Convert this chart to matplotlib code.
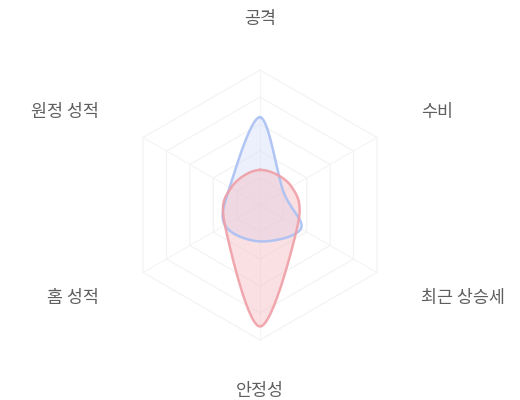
import numpy as np
import matplotlib.pyplot as plt

plt.rcParams['font.family'] = ['Noto Sans CJK KR', 'DejaVu Sans']

# Radar data (0-100)
categories = ['공격', '수비', '최근 상승세', '안정성', '홈 성적', '원정 성적']
team_a = [65, 20, 35, 27, 30, 26]   # blue
team_b = [26, 27, 32, 90, 30, 25]   # red
max_value = 100
levels = 5

cx, cy, radius = 260, 205, 135
angles = np.pi / 2 - np.arange(len(categories)) * 2 * np.pi / len(categories)


def to_xy(vals):
    r = np.asarray(vals, dtype=float) / max_value * radius
    return cx + r * np.cos(angles), cy - r * np.sin(angles)


def smooth_closed(x, y, n=30):
    # closed Catmull-Rom curve through the points
    pts = np.column_stack([x, y])
    k = len(pts)
    out = []
    for i in range(k):
        p0, p1, p2, p3 = pts[i - 1], pts[i], pts[(i + 1) % k], pts[(i + 2) % k]
        t = np.linspace(0, 1, n, endpoint=False)[:, None]
        seg = 0.5 * ((2 * p1) + (-p0 + p2) * t + (2 * p0 - 5 * p1 + 4 * p2 - p3) * t ** 2
                     + (-p0 + 3 * p1 - 3 * p2 + p3) * t ** 3)
        out.append(seg)
    out = np.vstack(out + [pts[:1]])
    return out[:, 0], out[:, 1]


fig = plt.figure(figsize=(5.2, 4.0), dpi=100)
ax = fig.add_axes([0, 0, 1, 1])
ax.set_xlim(0, 520)
ax.set_ylim(400, 0)
ax.axis('off')

# hexagon grid
for lv in range(1, levels + 1):
    gx, gy = to_xy([max_value * lv / levels] * len(categories))
    ax.plot(np.append(gx, gx[0]), np.append(gy, gy[0]), color='#f2f2f2', lw=0.8, zorder=1)
ox, oy = to_xy([max_value] * len(categories))
for x, y in zip(ox, oy):
    ax.plot([cx, x], [cy, y], color='#f4f4f4', lw=0.8, zorder=1)

# series
for vals, line_c, fill_c in [(team_a, '#a9c0f3', '#d3dff9'), (team_b, '#ef9fa7', '#f5bcc2')]:
    px, py = to_xy(vals)
    sx, sy = smooth_closed(px, py)
    ax.fill(sx, sy, color=fill_c, alpha=0.45, lw=0, zorder=2)
    ax.plot(sx, sy, color=line_c, lw=1.8, alpha=0.9, zorder=3)

# axis labels
label_r = 186
for name, a in zip(categories, angles):
    c = np.cos(a)
    lx = cx + label_r * c
    ly = cy - label_r * np.sin(a)
    if abs(c) < 0.1:
        ha = 'center'
    else:
        ha = 'left' if c > 0 else 'right'
    ax.text(lx, ly, name, ha=ha, va='center', fontsize=12.5, color='#5f5f5f')

fig.savefig('out.png', dpi=100)
